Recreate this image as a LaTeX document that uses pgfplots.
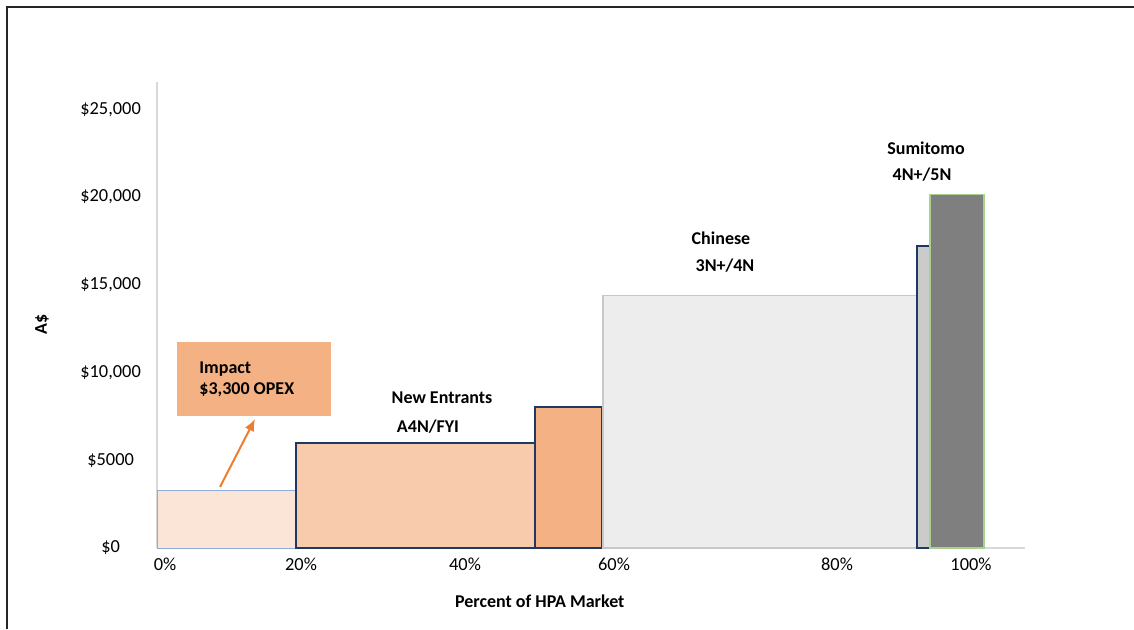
\documentclass[border=0pt]{standalone}
\usepackage{fontspec}
\setmainfont{Carlito}
\usepackage{pgfplots}
\pgfplotsset{compat=1.18}
\usetikzlibrary{arrows.meta}
\definecolor{peachA}{HTML}{FBE5D6}
\definecolor{peachB}{HTML}{F8CBAD}
\definecolor{peachC}{HTML}{F4B183}
\definecolor{navy}{HTML}{203864}
\definecolor{lblue}{HTML}{8FAADC}
\definecolor{greyA}{HTML}{EDEDED}
\definecolor{greyAb}{HTML}{C8C8C8}
\definecolor{greyB}{HTML}{CBCBCB}
\definecolor{greyC}{HTML}{7F7F7F}
\definecolor{lgreen}{HTML}{A9D18E}
\definecolor{arrowor}{HTML}{ED7D31}
\begin{document}
\fontsize{9}{11}\selectfont
\begin{tikzpicture}
\useasboundingbox (0,0) rectangle (567pt,314.5pt);
\draw[line width=1pt, black!85] (3.5pt,0) -- (3.5pt,310.8pt) -- (567pt,310.8pt);
\begin{axis}[
  at={(78.5pt,40.5pt)}, anchor=south west,
  scale only axis, width=434pt, height=233pt,
  xmin=0, xmax=868, ymin=0, ymax=26553,
  clip=false,
  scaled y ticks=false, scaled x ticks=false,
  axis x line=bottom, axis y line=left,
  axis line style={-, draw=black!15, line width=0.7pt},
  major tick length=0pt,
  xtick={8,144,308,457,680,814},
  xticklabels={0\%,20\%,40\%,60\%,80\%,100\%},
  ytick={0,5000,10000,15000,20000,25000},
  yticklabels={\$0,\$5000,{\$10,000},{\$15,000},{\$20,000},{\$25,000}},
  /pgf/number format/assume math mode=true,
  ticklabel style={font=\fontsize{9.2}{11}\selectfont},
  xticklabel style={yshift=-2pt},
  yticklabel style={text width=32pt, align=center, xshift=-4pt},
  xlabel={\textbf{Percent of HPA Market}},
  xlabel style={at={(axis description cs:0.441,-0.114)}, anchor=center, font=\fontsize{9}{11}\selectfont},
  ylabel={\textbf{A\$}},
  ylabel style={at={(axis description cs:-0.1325,0.48)}, anchor=center, font=\fontsize{9}{11}\selectfont},
]
% bars: (x0,0) (x0,h) (x1,h) (x1,0)
\addplot[fill=peachA, draw=lblue, line width=0.5pt] coordinates {(0,0) (0,3300) (139,3300) (139,0)} -- cycle;
\addplot[fill=peachB, draw=navy, line width=0.9pt] coordinates {(139,0) (139,6000) (378,6000) (378,0)} -- cycle;
\addplot[fill=peachC, draw=navy, line width=0.9pt] coordinates {(378,0) (378,8050) (445,8050) (445,0)} -- cycle;
\addplot[fill=greyA, draw=greyAb, line width=0.6pt] coordinates {(446,0) (446,14400) (761,14400) (761,0)} -- cycle;
\addplot[fill=greyB, draw=navy, line width=0.9pt] coordinates {(760,0) (760,17200) (773,17200) (773,0)} -- cycle;
\addplot[fill=greyC, draw=lgreen, line width=0.6pt] coordinates {(773,0) (773,20150) (827,20150) (827,0)} -- cycle;
% annotation box and arrow
\fill[peachC] (axis cs:20,7521) rectangle (axis cs:174,11738);
\node[anchor=west, font=\bfseries] at (axis cs:36,10199) {Impact};
\node[anchor=west, font=\bfseries] at (axis cs:36,9003) {\$3,300 OPEX};
\draw[arrowor, line width=1pt, -{Latex[length=6pt,width=5pt]}] (axis cs:63,3476) -- (axis cs:98,7350);
\node[font=\bfseries] at (axis cs:285,8547) {New Entrants};
\node[font=\bfseries] at (axis cs:271,6895) {A4N/FYI};
\node[font=\bfseries] at (axis cs:564,17664) {Chinese};
\node[font=\bfseries] at (axis cs:568,16068) {3N+/4N};
\node[font=\bfseries] at (axis cs:769,22792) {Sumitomo};
\node[font=\bfseries] at (axis cs:765,21254) {4N+/5N};
\end{axis}
\end{tikzpicture}
\end{document}
